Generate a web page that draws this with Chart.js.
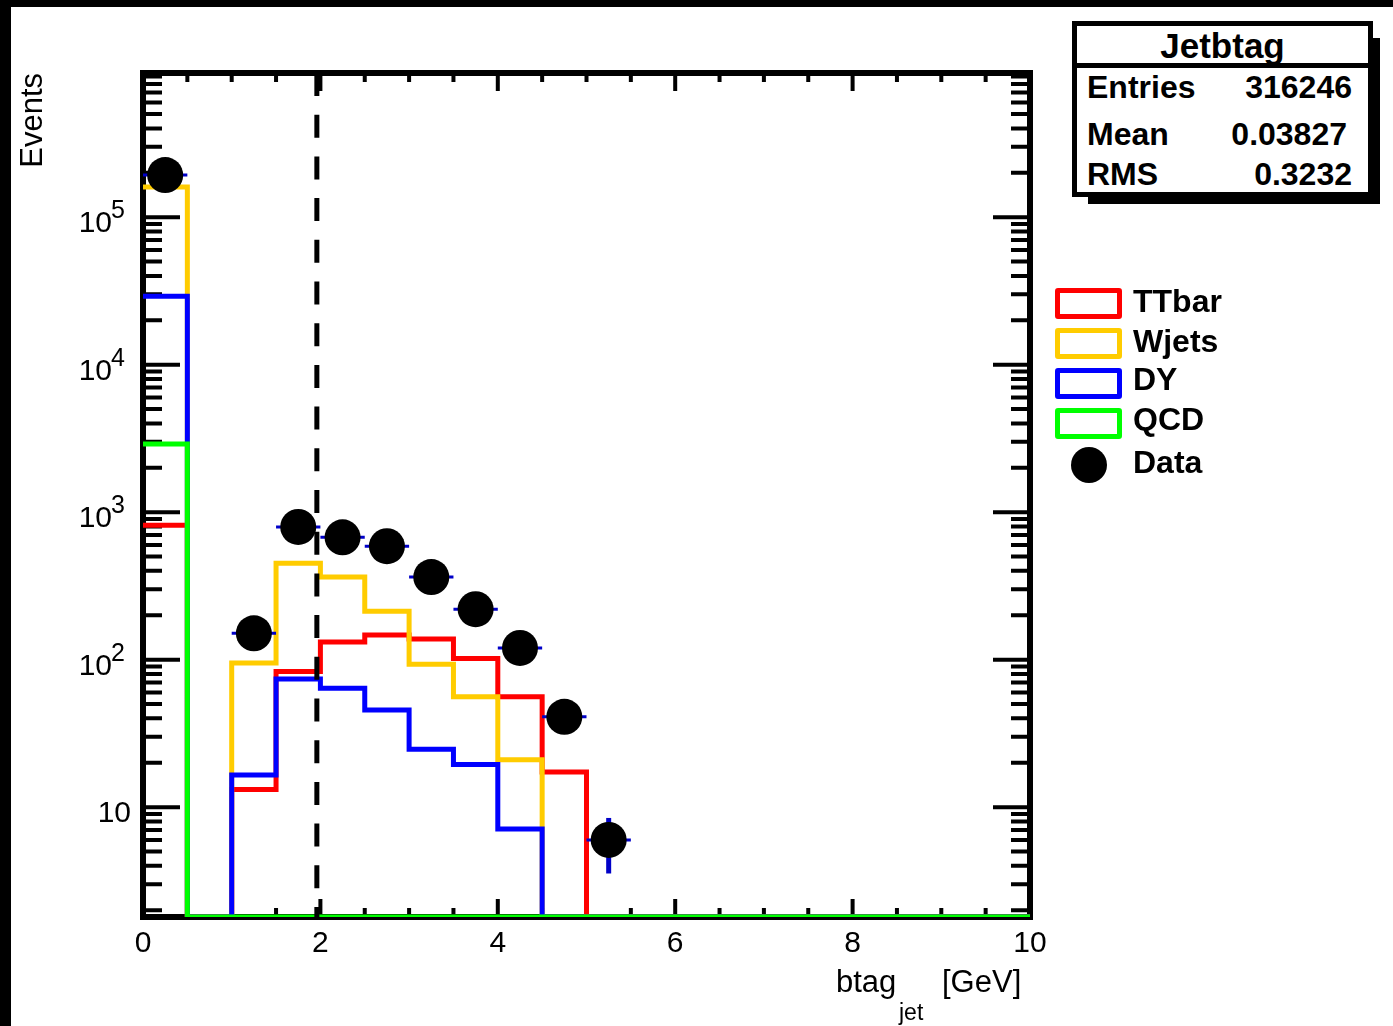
<!DOCTYPE html>
<html>
<head>
<meta charset="utf-8">
<title>Jetbtag</title>
<script src="https://cdn.jsdelivr.net/npm/chart.js@4.4.1/dist/chart.umd.min.js"></script>
<style>
  html, body { margin: 0; padding: 0; background: #fff; }
  #wrap { position: relative; width: 1393px; height: 1026px; overflow: hidden;
          font-family: "Liberation Sans", Arial, Helvetica, sans-serif; color: #000; }
  #wrap canvas { position: absolute; left: 0; top: 0; }
  .blk { position: absolute; background: #000; }
  .txt { position: absolute; white-space: nowrap; line-height: 1; }
  .b { font-weight: bold; }
  .legbox { position: absolute; box-sizing: border-box; border: 5px solid; border-radius: 3px;
            width: 67px; height: 31px; background: #fff; }
</style>
</head>
<body>
<div id="wrap">
  <canvas id="c" width="1393" height="1026"></canvas>

  <!-- bandes noires du scan -->
  <div class="blk" style="left:0;top:0;width:11px;height:1026px"></div>
  <div class="blk" style="left:0;top:0;width:1393px;height:7px"></div>

  <!-- boite de stats ROOT -->
  <div class="blk" style="left:1373px;top:38px;width:7px;height:166px"></div>
  <div class="blk" style="left:1088px;top:197px;width:292px;height:7px"></div>
  <div style="position:absolute;left:1072px;top:21px;width:301px;height:176px;box-sizing:border-box;border:5px solid #000;background:#fff"></div>
  <div class="blk" style="left:1072px;top:63px;width:301px;height:5px"></div>
  <div class="txt b" style="left:1072px;width:301px;text-align:center;top:28px;font-size:35px">Jetbtag</div>
  <div class="txt b" style="left:1087px;top:71px;font-size:32px">Entries</div>
  <div class="txt b" style="right:41px;top:71px;font-size:32px">316246</div>
  <div class="txt b" style="left:1087px;top:118px;font-size:32px">Mean</div>
  <div class="txt b" style="right:46px;top:118px;font-size:32px">0.03827</div>
  <div class="txt b" style="left:1087px;top:158px;font-size:32px">RMS</div>
  <div class="txt b" style="right:41px;top:158px;font-size:32px">0.3232</div>

  <!-- legende -->
  <div class="legbox" style="left:1055px;top:288px;border-color:#ff0000"></div>
  <div class="txt b" style="left:1133px;top:285px;font-size:32px">TTbar</div>
  <div class="legbox" style="left:1055px;top:328px;border-color:#ffcc00"></div>
  <div class="txt b" style="left:1133px;top:325px;font-size:32px">Wjets</div>
  <div class="legbox" style="left:1055px;top:368px;border-color:#0000ff"></div>
  <div class="txt b" style="left:1133px;top:363px;font-size:32px">DY</div>
  <div class="legbox" style="left:1055px;top:408px;border-color:#00ff00"></div>
  <div class="txt b" style="left:1133px;top:403px;font-size:32px">QCD</div>
  <div style="position:absolute;left:1071px;top:447px;width:36px;height:36px;border-radius:50%;background:#000"></div>
  <div class="txt b" style="left:1133px;top:446px;font-size:32px">Data</div>

  <!-- titre axe x -->
  <div class="txt" style="left:836px;top:966px;font-size:31px">btag</div>
  <div class="txt" style="left:899px;top:1001px;font-size:23px">jet</div>
  <div class="txt" style="left:942px;top:966px;font-size:31px">[GeV]</div>
</div>

<script>
// bords des bins (largeur 0.5)
const binEdges = [0, 0.5, 1, 1.5, 2, 2.5, 3, 3.5, 4, 4.5, 5, 5.5, 6, 6.5, 7, 7.5, 8, 8.5, 9, 9.5, 10];

// contenus des histogrammes
const ttbar = [815, 0, 13.2, 83, 132, 147, 138, 102, 56, 17.3, 0, 0, 0, 0, 0, 0, 0, 0, 0, 0];
const wjets = [160000, 0, 95, 451, 364, 213, 93, 56, 21, 0, 0, 0, 0, 0, 0, 0, 0, 0, 0, 0];
const dy    = [29100, 0, 16.5, 74, 64, 45.5, 24.7, 19.5, 7.1, 0, 0, 0, 0, 0, 0, 0, 0, 0, 0, 0];
const qcd   = [2900, 0, 0, 0, 0, 0, 0, 0, 0, 0, 0, 0, 0, 0, 0, 0, 0, 0, 0, 0];
const dataCounts = [193000, 0, 151, 794, 675, 588, 363, 220, 120, 41, 6, 0, 0, 0, 0, 0, 0, 0, 0, 0];

// coupure (ligne pointillee)
const cutX = 1.96;

// axes
const xMin = 0, xMax = 10;
const yMin = 1.8, yMax = 9.5e5;
const xTickValues = [0, 2, 4, 6, 8, 10];
const yTickValues = [10, 100, 1000, 10000, 100000];
const yTickExps = ['', '2', '3', '4', '5'];

const FONT = '"Liberation Sans", Arial, Helvetica, sans-serif';

// histogramme -> points pour une ligne en escalier (0 -> bas du cadre, comme ROOT en log)
function toSteps(vals) {
    const pts = vals.map((v, i) => ({ x: binEdges[i], y: v > 0 ? v : yMin }));
    pts.push({ x: binEdges[binEdges.length - 1], y: pts[pts.length - 1].y });
    return pts;
}

function toPoints(vals) {
    const pts = [];
    vals.forEach((v, i) => {
        if (v > 0) pts.push({ x: (binEdges[i] + binEdges[i + 1]) / 2, y: v, i: i });
    });
    return pts;
}

function stepSet(label, vals, color, order) {
    return {
        label: label,
        data: toSteps(vals),
        borderColor: color,
        borderWidth: 5,
        stepped: 'before',
        pointRadius: 0,
        fill: false,
        order: order
    };
}

/* cadre + graduations a l'interieur, dessines avant les histogrammes */
const framePlugin = {
    id: 'rootFrame',
    beforeDatasetsDraw(chart) {
        const { ctx, chartArea: a, scales: { x, y } } = chart;
        ctx.save();
        ctx.strokeStyle = '#000';
        ctx.lineWidth = 4;
        ctx.beginPath();
        for (let k = 0; k <= 20; k++) {
            const v = k * 0.5;
            const px = x.getPixelForValue(v);
            const len = (k % 4 === 0) ? 18 : 9;
            ctx.moveTo(px, a.bottom); ctx.lineTo(px, a.bottom - len);
            ctx.moveTo(px, a.top); ctx.lineTo(px, a.top + len);
        }
        for (let d = 0; d <= 6; d++) {
            for (let m = 1; m <= 9; m++) {
                const v = m * Math.pow(10, d);
                if (v < yMin || v > yMax) continue;
                const py = y.getPixelForValue(v);
                const len = m === 1 ? 37 : 19;
                ctx.moveTo(a.left, py); ctx.lineTo(a.left + len, py);
                ctx.moveTo(a.right, py); ctx.lineTo(a.right - len, py);
            }
        }
        ctx.stroke();
        ctx.lineWidth = 6;
        ctx.strokeRect(a.left, a.top, a.right - a.left, a.bottom - a.top);

        // etiquettes de l'axe y : 10, 10^2 ...
        ctx.fillStyle = '#000';
        ctx.textBaseline = 'alphabetic';
        yTickValues.forEach((v, i) => {
            const py = y.getPixelForValue(v);
            if (!yTickExps[i]) {
                ctx.font = '30px ' + FONT;
                ctx.textAlign = 'right';
                ctx.fillText('10', a.left - 12, py + 15);
            } else {
                ctx.font = '30px ' + FONT;
                ctx.textAlign = 'right';
                ctx.fillText('10', a.left - 31, py + 15);
                ctx.font = '25px ' + FONT;
                ctx.textAlign = 'left';
                ctx.fillText(yTickExps[i], a.left - 32, py + 1);
            }
        });
        ctx.restore();
    }
};

/* barres d'erreur des donnees, sous les marqueurs */
const errorBarPlugin = {
    id: 'dataErrors',
    beforeDatasetDraw(chart, args) {
        const ds = chart.data.datasets[args.index];
        if (ds.label !== 'Data') return;
        const { ctx, scales: { x, y } } = chart;
        ctx.save();
        ctx.strokeStyle = '#0000c8';
        ds.data.forEach(p => {
            const py = y.getPixelForValue(p.y);
            const err = Math.sqrt(p.y);
            ctx.lineWidth = 3;
            ctx.beginPath();
            ctx.moveTo(x.getPixelForValue(binEdges[p.i]), py);
            ctx.lineTo(x.getPixelForValue(binEdges[p.i + 1]), py);
            ctx.stroke();
            ctx.lineWidth = 5;
            ctx.beginPath();
            ctx.moveTo(x.getPixelForValue(p.x), y.getPixelForValue(Math.max(p.y - err, yMin)));
            ctx.lineTo(x.getPixelForValue(p.x), y.getPixelForValue(Math.min(p.y + err, yMax)));
            ctx.stroke();
        });
        ctx.restore();
    }
};

const ctx = document.getElementById('c').getContext('2d');
new Chart(ctx, {
    type: 'line',
    data: {
        datasets: [
            {
                label: 'cut',
                data: [{ x: cutX, y: yMax }, { x: cutX, y: yMin }],
                borderColor: '#000',
                borderWidth: 5,
                borderDash: [23, 18.7],
                pointRadius: 0,
                order: 0
            },
            {
                label: 'Data',
                data: toPoints(dataCounts),
                showLine: false,
                pointRadius: 18,
                pointHoverRadius: 18,
                pointBackgroundColor: '#000',
                pointBorderWidth: 0,
                order: 1
            },
            stepSet('QCD', qcd, '#00ff00', 2),
            stepSet('DY', dy, '#0000ff', 3),
            stepSet('Wjets', wjets, '#ffcc00', 4),
            stepSet('TTbar', ttbar, '#ff0000', 5)
        ]
    },
    options: {
        responsive: false,
        animation: false,
        events: [],
        layout: { padding: { top: 73, right: 363, left: 0, bottom: 0 } },
        plugins: {
            legend: { display: false },
            tooltip: { enabled: false }
        },
        scales: {
            x: {
                type: 'linear',
                min: xMin,
                max: xMax,
                grid: { display: false, drawTicks: false },
                border: { display: false },
                afterBuildTicks: s => { s.ticks = xTickValues.map(v => ({ value: v })); },
                ticks: {
                    color: '#000',
                    font: { family: FONT, size: 30 },
                    padding: 9,
                    maxRotation: 0,
                    autoSkip: false,
                    callback: v => String(v)
                },
                afterFit: s => { s.height = 109; }
            },
            y: {
                type: 'logarithmic',
                min: yMin,
                max: yMax,
                grid: { display: false, drawTicks: false },
                border: { display: false },
                ticks: { display: false },
                title: {
                    display: true,
                    text: 'Events',
                    align: 'end',
                    color: '#000',
                    font: { family: FONT, size: 31 },
                    padding: { top: 15, bottom: 0 }
                },
                afterFit: s => { s.width = 143; }
            }
        }
    },
    plugins: [framePlugin, errorBarPlugin]
});
</script>
</body>
</html>
